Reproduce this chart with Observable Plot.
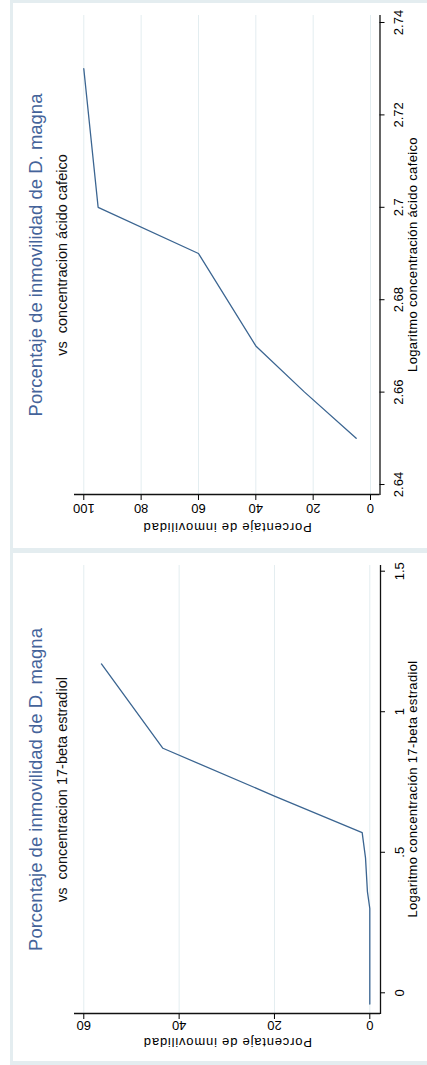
<!DOCTYPE html>
<html><head><meta charset="utf-8">
<script src="https://cdn.jsdelivr.net/npm/d3@7"></script>
<script src="https://cdn.jsdelivr.net/npm/@observablehq/plot@0.6"></script>
<style>
html,body{margin:0;padding:0;background:#fff;overflow:hidden;width:427px;height:1065px;}
#bg{position:absolute;left:10px;top:0;width:430px;height:1065px;background:#e4edf0;}
.panel{position:absolute;background:#fff;transform-origin:0 0;font-family:"Liberation Sans",Arial,sans-serif;}
.ttl{position:absolute;white-space:pre;transform:translateX(-50%);line-height:1;}
.t1{font-size:18.5px;color:#44639a;}
.t2{font-size:14.5px;color:#111;}
.panel svg{position:absolute;left:0;top:0;overflow:visible;}
g[aria-label="y-axis label"] text{letter-spacing:0.8px;}
g[aria-label="x-axis label"] text{letter-spacing:0.35px;}
</style>
</head><body>
<div id="bg"></div>
<div id="root"></div>
<script>
// ---- Data: caffeic acid panel ----
const cafLog = [2.65, 2.66, 2.67, 2.69, 2.70, 2.73];
const cafPct = [5, 23, 40, 60, 95, 100];
const cafXTicks = [2.64, 2.66, 2.68, 2.70, 2.72, 2.74];
const cafXLabels = ["2.64", "2.66", "2.68", "2.7", "2.72", "2.74"];
const cafYTicks = [0, 20, 40, 60, 80, 100];
const cafXDomain = [2.63784, 2.74173];
const cafYDomain = [-3.31, 103.24];

// ---- Data: 17-beta estradiol panel ----
const estLog = [-0.04, 0.30, 0.36, 0.48, 0.57, 0.70, 0.87, 1.17];
const estPct = [0, 0, 0.5, 0.9, 1.6, 20, 43.4, 56.3];
const estXTicks = [0, 0.5, 1, 1.5];
const estXLabels = ["0", ".5", "1", "1.5"];
const estYTicks = [0, 20, 40, 60];
const estXDomain = [-0.0736, 1.5238];
const estYDomain = [-2.245, 61.95];

const titleText = "Porcentaje de inmovilidad de D. magna";
const yTitle = "Porcentaje de inmovilidad";
const lineColor = "#3b6591";
const gridColor = "#e3edf0";

function panel(cfg) {
  const div = document.createElement("div");
  div.className = "panel";
  div.style.left = "13px";
  div.style.top = cfg.top + "px";
  div.style.width = cfg.W + "px";
  div.style.height = cfg.H + "px";
  div.style.transform = `translate(0px, ${cfg.W}px) rotate(-90deg)`;
  const data = cfg.xs.map((x, i) => ({x, y: cfg.ys[i]}));
  const fmt = new Map(cfg.xTicks.map((t, i) => [t, cfg.xLabels[i]]));
  const chart = Plot.plot({
    width: cfg.W, height: cfg.H,
    marginLeft: cfg.mL, marginRight: cfg.W - cfg.mL - cfg.fw, marginTop: 61, marginBottom: cfg.mB,
    style: {fontFamily: "Liberation Sans, Arial, sans-serif", fontSize: "13px", background: "transparent", color: "#000"},
    x: {domain: cfg.xDomain},
    y: {domain: cfg.yDomain},
    marks: [
      Plot.gridY(cfg.yTicks, {stroke: gridColor, strokeOpacity: 1, strokeWidth: 1}),
      Plot.line(data, {x: "x", y: "y", stroke: lineColor, strokeWidth: 1.3}),
      Plot.ruleX([cfg.xDomain[0]], {stroke: "#111", strokeWidth: 1.3}),
      Plot.ruleY([cfg.yDomain[0]], {stroke: "#111", strokeWidth: 1.3}),
      Plot.axisX({ticks: cfg.xTicks, tickFormat: d => fmt.get(d), tickSize: 5, tickPadding: 9,
        label: cfg.xTitle, labelAnchor: "center", labelOffset: cfg.xLabOff, labelArrow: "none"}),
      Plot.axisY({ticks: cfg.yTicks, tickFormat: d => String(d), tickSize: 5, tickPadding: cfg.yPad, tickRotate: -90,
        label: yTitle, labelAnchor: "center", labelOffset: cfg.yLabOff, labelArrow: "none"})
    ]
  });
  div.appendChild(chart);
  const cx = cfg.mL + cfg.fw / 2;
  const t1 = document.createElement("div");
  t1.className = "ttl t1"; t1.textContent = titleText;
  t1.style.left = cx + "px"; t1.style.top = (30 - 0.8465 * 18.5) + "px";
  const t2 = document.createElement("div");
  t2.className = "ttl t2"; t2.textContent = cfg.sub;
  t2.style.left = cx + "px"; t2.style.top = (54 - 0.8465 * 14.5) + "px";
  div.appendChild(t1); div.appendChild(t2);
  document.getElementById("root").appendChild(div);
}

panel({top: 3, W: 545, H: 417, mL: 53, fw: 480, mB: 50.5,
  xs: cafLog, ys: cafPct, xTicks: cafXTicks, xLabels: cafXLabels, yTicks: cafYTicks,
  xDomain: cafXDomain, yDomain: cafYDomain, yPad: 4.6, xLabOff: 36.8, yLabOff: 37.5,
  xTitle: "Logaritmo concentración ácido cafeico",
  sub: "vs  concentracion ácido cafeico"});

panel({top: 553, W: 508, H: 417, mL: 47, fw: 449, mB: 50,
  xs: estLog, ys: estPct, xTicks: estXTicks, xLabels: estXLabels, yTicks: estYTicks,
  xDomain: estXDomain, yDomain: estYDomain, yPad: 2.6, xLabOff: 36, yLabOff: 33.5,
  xTitle: "Logaritmo concentración 17-beta estradiol",
  sub: "vs  concentracion 17-beta estradiol"});
</script>
</body></html>
